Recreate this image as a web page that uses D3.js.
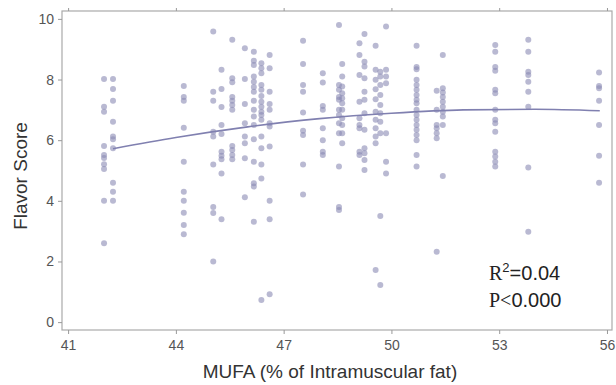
<!DOCTYPE html>
<html>
<head>
<meta charset="utf-8">
<script src="https://cdn.jsdelivr.net/npm/d3@7"></script>
<style>
  body { margin: 0; background: #fff; }
  svg { display: block; }
  .tick text { font-family: Arial, "Liberation Sans", sans-serif; fill: #555; font-size: 14px; }
</style>
</head>
<body>
<div id="chart"></div>
<script>
// columns of MUFA values with the flavor scores sitting on them
var mufa = [42.0, 42.25, 44.22, 45.04, 45.27, 45.57, 45.92, 46.17, 46.38, 46.61,
            47.54, 48.09, 48.54, 48.63, 49.11, 49.25, 49.56, 49.69, 49.85, 50.70,
            51.26, 51.43, 52.89, 53.81, 55.78];

var flavor = [
    [8.02, 7.1, 6.94, 5.81, 5.51, 5.41, 5.21, 5.05, 4.0, 2.6],
    [8.02, 7.69, 7.3, 6.61, 6.12, 6.03, 5.73, 4.6, 4.3, 4.0],
    [7.79, 7.42, 7.30, 6.41, 5.29, 4.30, 4.0, 3.61, 3.2, 2.9],
    [9.58, 7.6, 7.3, 6.28, 6.12, 5.2, 3.8, 3.6, 2.0],
    [8.32, 7.69, 7.09, 6.5, 6.2, 5.62, 5.49, 5.37, 4.9, 3.39],
    [9.31, 8.04, 7.91, 7.42, 7.3, 7.16, 7.0, 5.81, 5.68, 5.51, 5.37],
    [9.03, 8.02, 7.19, 6.56, 6.12, 5.9, 5.4, 4.12],
    [8.92, 8.62, 8.48, 8.1, 7.93, 7.75, 7.6, 7.3, 7.0, 6.78, 6.5, 6.03, 5.29, 4.58, 4.47, 3.31],
    [8.54, 8.37, 8.21, 7.82, 7.66, 7.46, 7.27, 7.1, 6.94, 6.83, 6.67, 6.12, 5.73, 5.2, 4.74, 0.73],
    [8.81, 8.37, 7.6, 7.19, 7.0, 6.56, 6.45, 5.79, 4.0, 3.39, 0.92],
    [9.28, 8.51, 7.82, 7.6, 6.91, 6.31, 6.17, 5.2, 4.21],
    [8.21, 7.9, 7.13, 7.0, 6.39, 6.0, 5.62, 5.51],
    [9.8, 7.82, 7.66, 7.42, 7.33, 7.0, 6.83, 6.56, 6.23, 5.13, 3.8, 3.7],
    [8.51, 8.1, 7.77, 7.55, 7.38, 7.22, 7.0, 6.72, 6.5, 6.23, 5.9],
    [9.2, 8.81, 8.15, 7.27, 6.72, 6.5, 6.39, 5.62, 5.51],
    [9.5, 8.59, 8.43, 8.04, 7.6, 7.33, 6.89, 6.34, 5.73, 5.57, 5.35, 5.02],
    [9.11, 8.32, 7.99, 7.68, 7.35, 6.94, 6.67, 6.39, 6.12, 5.9, 1.72],
    [8.26, 8.1, 7.82, 7.49, 7.16, 6.89, 6.61, 6.23, 3.5, 1.22],
    [9.75, 8.32, 8.1, 7.88, 6.23, 5.29, 4.9],
    [9.11, 8.41, 8.34, 7.99, 7.82, 7.66, 7.49, 7.33, 7.22, 7.0, 6.83, 6.67, 6.5, 6.34, 6.17, 6.0, 5.51, 5.13],
    [7.63, 7.0, 6.5, 6.39, 6.23, 6.06, 2.32],
    [8.81, 7.71, 7.57, 7.42, 7.27, 7.1, 6.94, 6.78, 6.5, 4.82],
    [9.14, 8.92, 8.41, 8.29, 7.66, 7.55, 7.0, 6.67, 6.56, 6.28, 5.62, 5.46, 5.29, 5.13],
    [9.31, 8.92, 8.26, 8.15, 7.93, 7.6, 7.1, 5.1, 2.98],
    [8.23, 7.79, 7.71, 7.3, 6.5, 5.49, 4.6]
];

// fitted curve
var fitX = [42.25, 44, 46, 48, 50, 52, 54, 55.8];
var fitY = [5.72, 6.09, 6.44, 6.71, 6.89, 7.00, 7.02, 6.97];

var xTicks = [41, 44, 47, 50, 53, 56];
var yTicks = [0, 2, 4, 6, 8, 10];

var width = 616, height = 385;

var svg = d3.select("#chart")
    .append("svg")
    .attr("width", width)
    .attr("height", height);

var x = d3.scaleLinear().domain([40.83, 56.14]).range([62, 612]);
var y = d3.scaleLinear().domain([-0.26, 10.26]).range([330, 11]);

// flatten columns into points
var points = [];
mufa.forEach(function(m, i) {
    flavor[i].forEach(function(f) { points.push({x: m, y: f}); });
});

// frame
svg.append("rect")
    .attr("x", 62)
    .attr("y", 11)
    .attr("width", 550)
    .attr("height", 319)
    .attr("fill", "none")
    .attr("stroke", "#aaa")
    .attr("stroke-width", 1.2);

// axes
var bottomAxis = svg.append("g")
    .attr("transform", "translate(0,330)")
    .call(d3.axisBottom(x).tickValues(xTicks).tickSize(4).tickPadding(6));

var leftAxis = svg.append("g")
    .attr("transform", "translate(62,0)")
    .call(d3.axisLeft(y).tickValues(yTicks).tickSize(4).tickPadding(4));

var topAxis = svg.append("g")
    .attr("transform", "translate(0,11)")
    .call(d3.axisTop(x).tickValues(xTicks).tickSize(3).tickFormat(""));

[bottomAxis, leftAxis, topAxis].forEach(function(g) {
    g.select(".domain").remove();
    g.selectAll(".tick line").attr("stroke", "#999");
});

// points
svg.append("g")
    .selectAll("circle")
    .data(points)
    .enter()
    .append("circle")
    .attr("cx", function(d) { return x(d.x); })
    .attr("cy", function(d) { return y(d.y); })
    .attr("r", 3)
    .style("fill", "#8a8ab4")
    .style("opacity", 0.6);

// fit line
var line = d3.line()
    .x(function(d, i) { return x(fitX[i]); })
    .y(function(d, i) { return y(fitY[i]); })
    .curve(d3.curveMonotoneX);

svg.append("path")
    .datum(fitX)
    .attr("d", line)
    .attr("fill", "none")
    .attr("stroke", "#8080b0")
    .attr("stroke-width", 1.6);

// axis titles
svg.append("text")
    .attr("x", 330)
    .attr("y", 378)
    .attr("text-anchor", "middle")
    .style("font-family", "Arial, 'Liberation Sans', sans-serif")
    .style("font-size", "19px")
    .style("fill", "#333")
    .text("MUFA (% of Intramuscular fat)");

svg.append("text")
    .attr("transform", "translate(27,176) rotate(-90)")
    .attr("text-anchor", "middle")
    .style("font-family", "Arial, 'Liberation Sans', sans-serif")
    .style("font-size", "19px")
    .style("fill", "#333")
    .text("Flavor Score");

// stats note
var r2 = svg.append("text")
    .attr("x", 489)
    .attr("y", 280)
    .style("font-size", "20px")
    .style("fill", "#222");
r2.append("tspan").style("font-family", "'Liberation Serif', serif").text("R");
r2.append("tspan").style("font-family", "Arial, 'Liberation Sans', sans-serif")
    .style("font-size", "13px").attr("dy", -8).text("2");
r2.append("tspan").style("font-family", "Arial, 'Liberation Sans', sans-serif")
    .attr("dy", 8).text("=0.04");

var p = svg.append("text")
    .attr("x", 489)
    .attr("y", 307)
    .style("font-size", "20px")
    .style("fill", "#222");
p.append("tspan").style("font-family", "'Liberation Serif', serif").text("P<");
p.append("tspan").style("font-family", "Arial, 'Liberation Sans', sans-serif").text("0.000");
</script>
</body>
</html>
